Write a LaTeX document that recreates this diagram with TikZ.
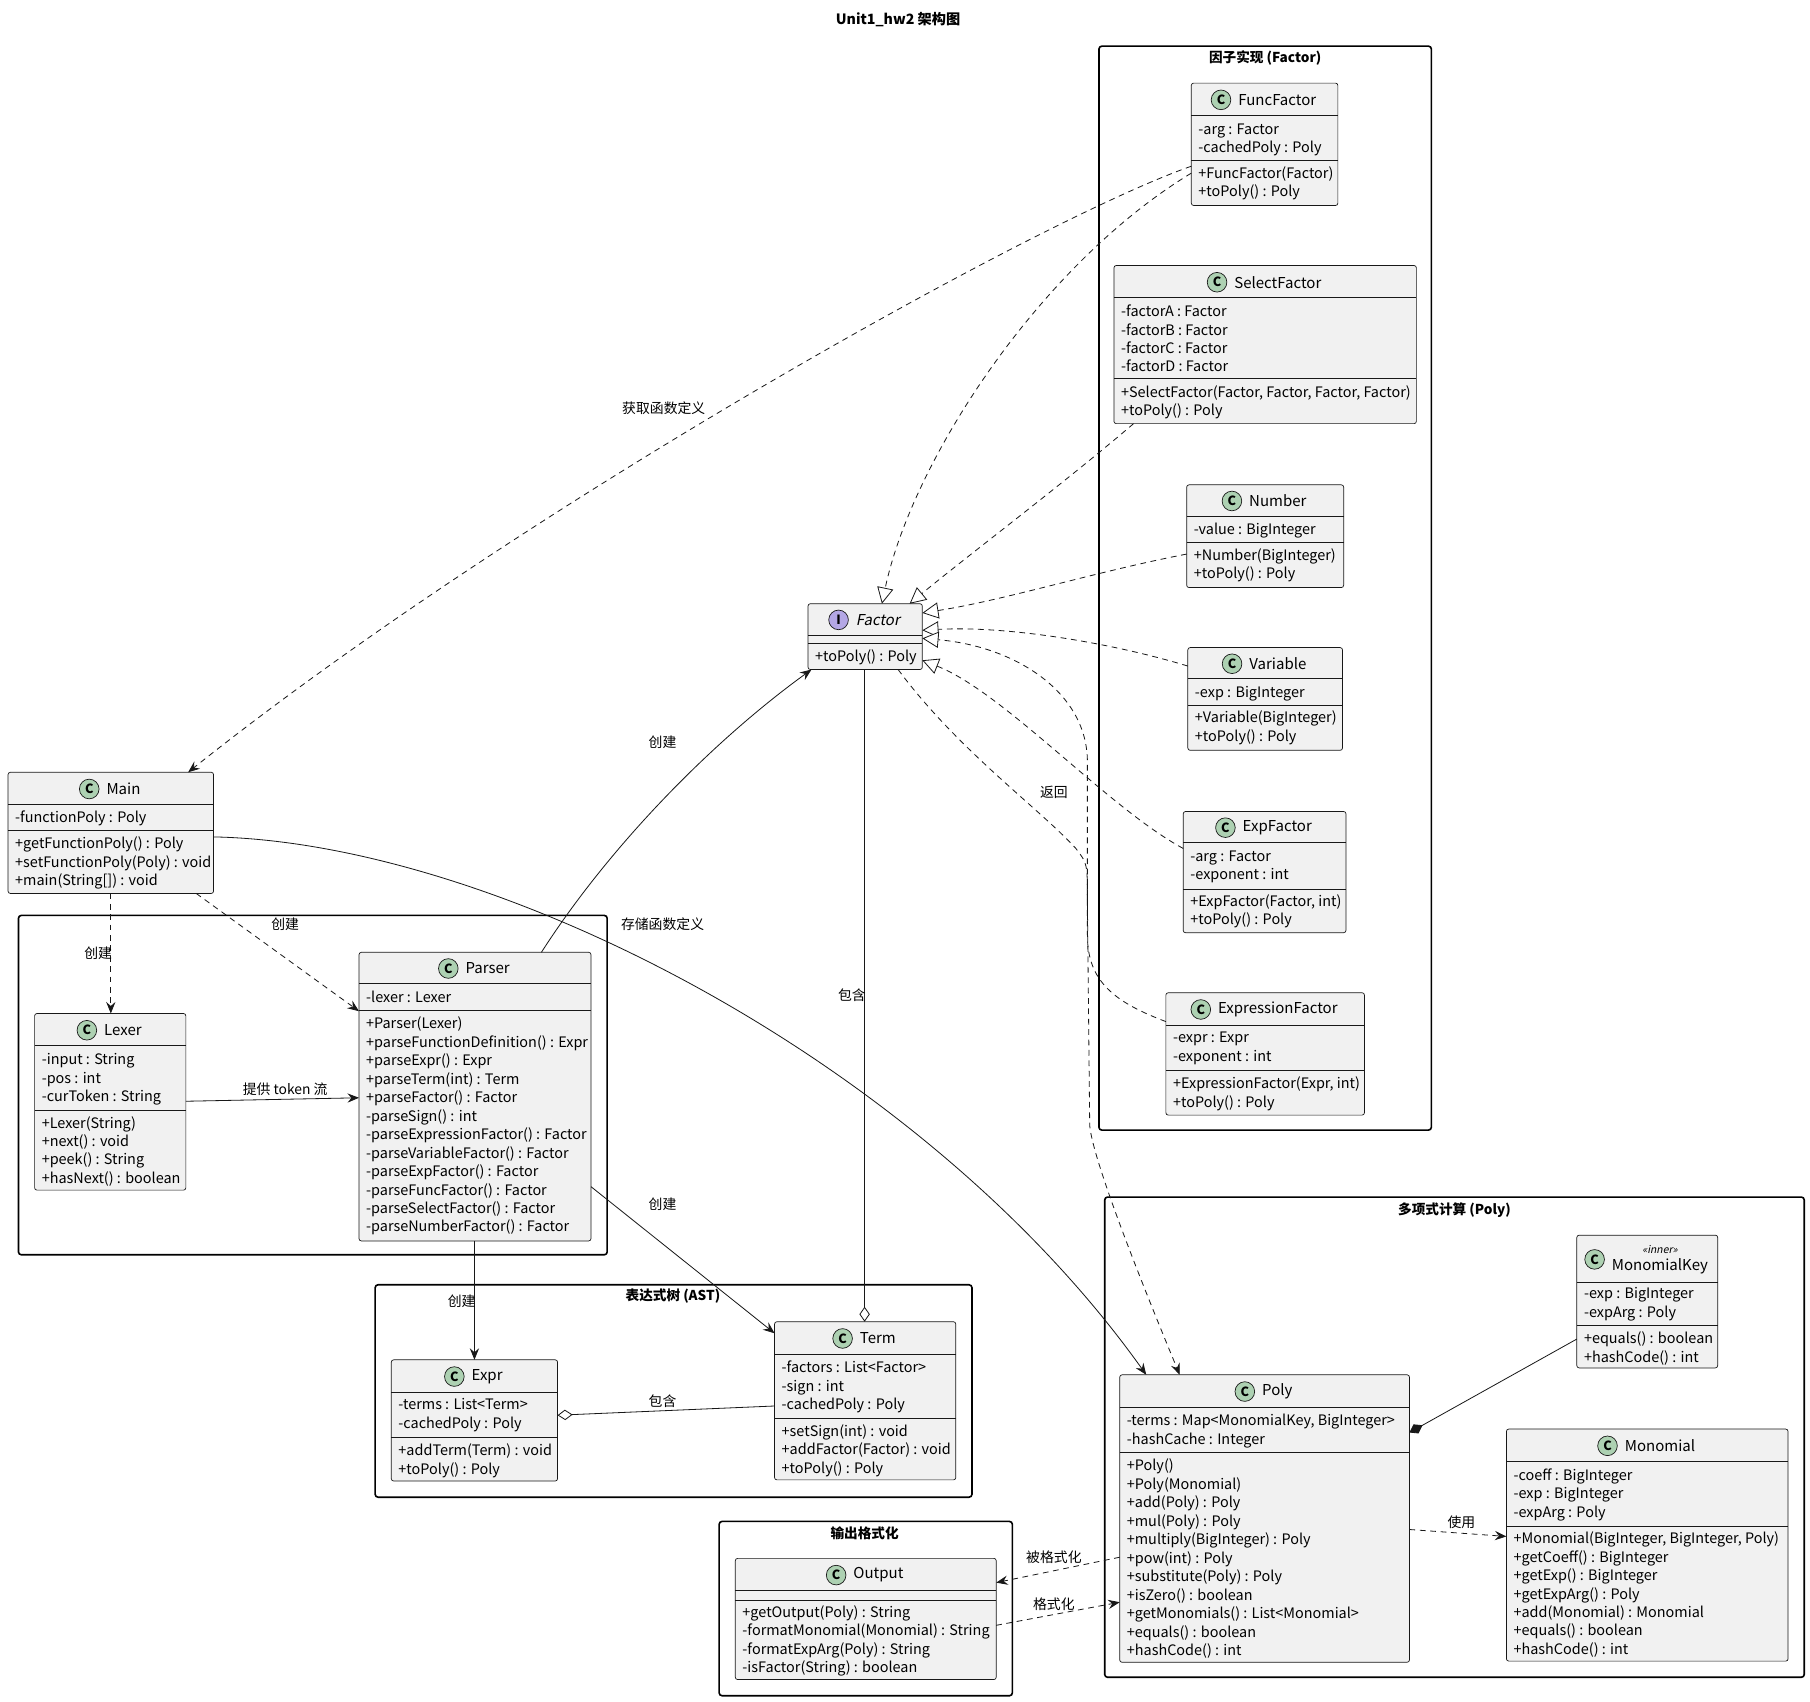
\documentclass[tikz,border=0pt]{standalone}
\usepackage{fontspec}
\setmainfont{Noto Sans CJK SC}[AutoFakeSlant=0.2]
\usetikzlibrary{arrows.meta,positioning}
\definecolor{boxfill}{HTML}{F1F1F1}
\definecolor{lineclr}{HTML}{181818}
\definecolor{cgreen}{HTML}{ADD1B2}
\definecolor{ipurple}{HTML}{B4A7E5}
\tikzset{
 classbox/.style={draw=lineclr, fill=boxfill, line width=0.6pt, rounded corners=2pt, inner sep=0pt, outer sep=0pt, anchor=north west},
 divline/.style={draw=lineclr, line width=0.6pt},
 pkgbox/.style={draw=black, fill=white, line width=1.4pt, rounded corners=2.5pt, inner sep=0pt, outer sep=0pt, anchor=north west},
 pkgtitle/.style={font=\fontsize{11.8}{13}\selectfont\bfseries, inner sep=0pt},
 member/.style={font=\fontsize{12.5}{14}\selectfont, anchor=mid west, inner sep=0pt},
 ctitle/.style={font=\fontsize{13}{15}\selectfont, inner sep=0pt, align=center},
 ccC/.style={circle, draw=lineclr, line width=0.6pt, fill=cgreen, minimum size=17pt, inner sep=0pt, font=\fontsize{11}{12}\selectfont\bfseries},
 ccI/.style={ccC, fill=ipurple},
 lbl/.style={font=\fontsize{12}{13}\selectfont, inner sep=1pt},
 edge/.style={draw=lineclr, line width=0.7pt},
 dep/.style={edge, dash pattern=on 5pt off 4pt},
 arr/.style={-{Stealth[length=10pt,width=8pt,inset=3.5pt]}},
 real/.style={-{Triangle[open,length=14pt,width=14pt,fill=white]}},
 aggr/.style={-{Diamond[open,length=13pt,width=9pt,fill=white]}},
 comp/.style={-{Diamond[length=13pt,width=9pt]}},
}
\newcommand\umlbox[9]{%
 \pgfmathsetmacro\bw{#4-#2}\pgfmathsetmacro\bh{#5-#3}%
 \pgfmathsetmacro\cx{(#2+#4)/2+11}\pgfmathsetmacro\cy{(#3+#6)/2+0.5}%
 \node[classbox, minimum width=\bw pt, minimum height=\bh pt] (#1) at (#2,#3) {};
 \draw[divline] (#2,#6) -- (#4,#6);
 \draw[divline] (#2,#7) -- (#4,#7);
 \node[ctitle] (#1-t) at (\cx,\cy) {#8};
 \node[cc#9, left=6pt of #1-t] (#1-c) {#9};
}
\newcommand\umllines[4]{%
 \foreach \t [count=\i] in {#4} {\node[member] (#1-\i) at ({#2+6},{#3+1.5+16*(\i-1)}) {\t};}
}
\begin{document}
\begin{tikzpicture}[x=1pt,y=-1pt]
\useasboundingbox[fill=white] (0,0) rectangle (1568,1474.4);
\node[font=\fontsize{12.3}{14}\selectfont\bfseries] (title) at (778,17) {Unit1\_hw2 架构图};
% packages
\node[pkgbox, minimum width=288pt, minimum height=939pt] (pkgF) at (952,40) {};
\node[pkgtitle] (pkgF-t) at (1096,50) {因子实现 (Factor)};
\node[pkgbox, minimum width=510pt, minimum height=294pt] (pkgP) at (16,793) {};
\node[pkgbox, minimum width=517pt, minimum height=184pt] (pkgA) at (325,1113) {};
\node[pkgtitle] (pkgA-t) at (583,1123) {表达式树 (AST)};
\node[pkgbox, minimum width=254pt, minimum height=151pt] (pkgO) at (623,1318) {};
\node[pkgtitle] (pkgO-t) at (749,1328) {输出格式化};
\node[pkgbox, minimum width=606pt, minimum height=416pt] (pkgY) at (957,1037) {};
\node[pkgtitle] (pkgY-t) at (1260,1048) {多项式计算 (Poly)};
% classes
\umlbox{FuncFactor}{1032}{72}{1159}{178}{100}{139}{FuncFactor}{C}
\umllines{FuncFactor-f}{1032}{112}{{-arg : Factor},{-cachedPoly : Poly}}
\umllines{FuncFactor-m}{1032}{150}{{+FuncFactor(Factor)},{+toPoly() : Poly}}
\umlbox{SelectFactor}{965}{230}{1227}{367}{258}{328}{SelectFactor}{C}
\umllines{SelectFactor-f}{965}{270}{{-factorA : Factor},{-factorB : Factor},{-factorC : Factor},{-factorD : Factor}}
\umllines{SelectFactor-m}{965}{340}{{+SelectFactor(Factor, Factor, Factor, Factor)},{+toPoly() : Poly}}
\umlbox{Number}{1028}{420}{1164}{509}{447}{470}{Number}{C}
\umllines{Number-f}{1028}{459}{{-value : BigInteger}}
\umllines{Number-m}{1028}{481}{{+Number(BigInteger)},{+toPoly() : Poly}}
\umlbox{Variable}{1029}{561}{1163}{650}{588}{611}{Variable}{C}
\umllines{Variable-f}{1029}{600}{{-exp : BigInteger}}
\umllines{Variable-m}{1029}{622}{{+Variable(BigInteger)},{+toPoly() : Poly}}
\umlbox{ExpFactor}{1025}{703}{1166}{808}{730}{770}{ExpFactor}{C}
\umllines{ExpFactor-f}{1025}{742}{{-arg : Factor},{-exponent : int}}
\umllines{ExpFactor-m}{1025}{781}{{+ExpFactor(Factor, int)},{+toPoly() : Poly}}
\umlbox{ExpressionFactor}{1010}{860}{1182}{966}{888}{927}{ExpressionFactor}{C}
\umllines{ExpressionFactor-f}{1010}{899}{{-expr : Expr},{-exponent : int}}
\umllines{ExpressionFactor-m}{1010}{939}{{+ExpressionFactor(Expr, int)},{+toPoly() : Poly}}
\umlbox{Factor}{700}{523}{799}{580}{550}{557}{\itshape Factor}{I}
\umllines{Factor-m}{700}{569}{{+toPoly() : Poly}}
\umlbox{Main}{7}{669}{185}{774}{697}{719}{Main}{C}
\umllines{Main-f}{7}{708}{{-functionPoly : Poly}}
\umllines{Main-m}{7}{731}{{+getFunctionPoly() : Poly},{+setFunctionPoly(Poly) : void},{+main(String[]) : void}}
\umlbox{Lexer}{30}{878}{161}{1031}{906}{962}{Lexer}{C}
\umllines{Lexer-f}{30}{918}{{-input : String},{-pos : int},{-curToken : String}}
\umllines{Lexer-m}{30}{973}{{+Lexer(String)},{+next() : void},{+peek() : String},{+hasNext() : boolean}}
\umlbox{Parser}{311}{825}{512}{1075}{852}{875}{Parser}{C}
\umllines{Parser-f}{311}{864}{{-lexer : Lexer}}
\umllines{Parser-m}{311}{887}{{+Parser(Lexer)},{+parseFunctionDefinition() : Expr},{+parseExpr() : Expr},{+parseTerm(int) : Term},{+parseFactor() : Factor},{-parseSign() : int},{-parseExpressionFactor() : Factor},{-parseVariableFactor() : Factor},{-parseExpFactor() : Factor},{-parseFuncFactor() : Factor},{-parseSelectFactor() : Factor},{-parseNumberFactor() : Factor}}
\umlbox{Expr}{339}{1178}{483}{1283}{1206}{1245}{Expr}{C}
\umllines{Expr-f}{339}{1217}{{-terms : List<Term>},{-cachedPoly : Poly}}
\umllines{Expr-m}{339}{1257}{{+addTerm(Term) : void},{+toPoly() : Poly}}
\umlbox{Term}{671}{1145}{828}{1282}{1173}{1229}{Term}{C}
\umllines{Term-f}{671}{1185}{{-factors : List<Factor>},{-sign : int},{-cachedPoly : Poly}}
\umllines{Term-m}{671}{1240}{{+setSign(int) : void},{+addFactor(Factor) : void},{+toPoly() : Poly}}
\umlbox{Output}{637}{1350}{863}{1455}{1378}{1386}{Output}{C}
\umllines{Output-m}{637}{1397}{{+getOutput(Poly) : String},{-formatMonomial(Monomial) : String},{-formatExpArg(Poly) : String},{-isFactor(String) : boolean}}
\umlbox{MonomialKey}{1366}{1070}{1488}{1185}{1111}{1148}{{\fontsize{9}{10}\selectfont\itshape «inner»}\\MonomialKey}{C}
\umllines{MonomialKey-f}{1366}{1121}{{-exp : BigInteger},{-expArg : Poly}}
\umllines{MonomialKey-m}{1366}{1160}{{+equals() : boolean},{+hashCode() : int}}
\umlbox{Poly}{970}{1191}{1221}{1440}{1219}{1258}{Poly}{C}
\umllines{Poly-f}{970}{1231}{{-terms : Map<MonomialKey, BigInteger>},{-hashCache : Integer}}
\umllines{Poly-m}{970}{1270}{{+Poly()},{+Poly(Monomial)},{+add(Poly) : Poly},{+mul(Poly) : Poly},{+multiply(BigInteger) : Poly},{+pow(int) : Poly},{+substitute(Poly) : Poly},{+isZero() : boolean},{+getMonomials() : List<Monomial>},{+equals() : boolean},{+hashCode() : int}}
\umlbox{Monomial}{1305}{1238}{1549}{1439}{1266}{1322}{Monomial}{C}
\umllines{Monomial-f}{1305}{1278}{{-coeff : BigInteger},{-exp : BigInteger},{-expArg : Poly}}
\umllines{Monomial-m}{1305}{1333}{{+Monomial(BigInteger, BigInteger, Poly)},{+getCoeff() : BigInteger},{+getExp() : BigInteger},{+getExpArg() : Poly},{+add(Monomial) : Monomial},{+equals() : boolean},{+hashCode() : int}}
% edges
\draw[dep,arr] ([yshift=-72pt]FuncFactor.north west) .. controls (900,190) and (450,440) .. ([xshift=156pt]Main.north west);
\draw[dep,real] ([yshift=-78pt]FuncFactor.north west) .. controls (900,230) and (790,400) .. ([xshift=64pt]Factor.north west);
\draw[dep,real] ([xshift=17pt]SelectFactor.south west) .. controls (920,420) and (840,480) .. ([xshift=88pt]Factor.north west);
\draw[dep,real] ([yshift=-60pt]Number.north west) .. controls (950,495) and (870,520) .. ([yshift=-8pt]Factor.north east);
\draw[dep,real] ([yshift=-16pt]Variable.north west) .. controls (960,556) and (870,542) .. ([yshift=-23pt]Factor.north east);
\draw[dep,real] ([yshift=-32pt]ExpFactor.north west) .. controls (960,700) and (870,600) .. ([yshift=-49pt]Factor.north east);
\draw[dep,real] ([yshift=-25pt]ExpressionFactor.north west) .. controls (965,868) and (942,850) .. (942,810) -- (942,660) .. controls (942,600) and (880,560) .. ([yshift=-30pt]Factor.north east);
\draw[dep,arr] ([xshift=78pt]Factor.south west) .. controls (830,650) and (900,700) .. (932,735) .. controls (942,748) .. (942,780) -- (944,975) .. controls (947,1010) and (1005,1150) .. ([xshift=52pt]Poly.north west);
\draw[edge,arr] ([yshift=-56pt]Main.north east) .. controls (430,730) and (800,920) .. ([xshift=23pt]Poly.north west);
\draw[edge,arr] ([xshift=158pt]Parser.north west) .. controls (530,730) and (620,640) .. ([xshift=3pt]Factor.south west);
\draw[dep,arr] ([xshift=89pt]Main.south west) -- ([xshift=66pt]Lexer.north west);
\draw[dep,arr] ([xshift=163pt]Main.south west) -- ([yshift=-51pt]Parser.north west);
\draw[edge,arr] ([yshift=-76pt]Lexer.north east) -- ([yshift=-126pt]Parser.north west);
\draw[edge,arr] ([xshift=100pt]Parser.south west) -- ([xshift=72pt]Expr.north west);
\draw[edge,arr] ([yshift=-203pt]Parser.north east) -- ([yshift=-10pt]Term.north west);
\draw[edge,aggr] ([xshift=49pt]Factor.south west) -- ([xshift=78pt]Term.north west);
\draw[edge,aggr] ([yshift=-73pt]Term.north west) -- ([yshift=-48pt]Expr.north east);
\draw[edge,comp] ([yshift=-90pt]MonomialKey.north west) -- ([yshift=-50pt]Poly.north east);
\draw[dep,arr] ([yshift=-134pt]Poly.north east) -- ([yshift=-93pt]Monomial.north west);
\draw[dep,arr] ([yshift=-158pt]Poly.north west) -- ([yshift=-21pt]Output.north east);
\draw[dep,arr] ([yshift=-58pt]Output.north east) -- ([yshift=-197pt]Poly.north west);
% labels
\node[lbl] (l1) at (575,354) {获取函数定义};
\node[lbl] (l2) at (913,686) {返回};
\node[lbl] (l3) at (574,801) {存储函数定义};
\node[lbl] (l4) at (574,643) {创建};
\node[lbl] (l5) at (85,826) {创建};
\node[lbl] (l6) at (247,801) {创建};
\node[lbl] (l7) at (247,944) {提供 token 流};
\node[lbl] (l8) at (400,1127) {创建};
\node[lbl] (l9) at (574,1043) {创建};
\node[lbl] (l10) at (738,862) {包含};
\node[lbl] (l11) at (574,1214) {包含};
\node[lbl] (l12) at (1266,1319) {使用};
\node[lbl] (l13) at (913,1349) {被格式化};
\node[lbl] (l14) at (913,1390) {格式化};
\end{tikzpicture}
\end{document}
